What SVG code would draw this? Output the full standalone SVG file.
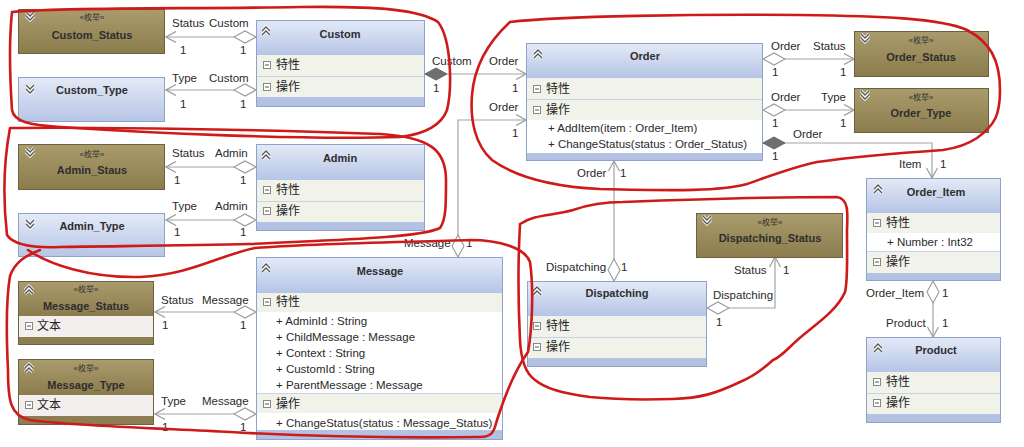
<svg xmlns="http://www.w3.org/2000/svg" xmlns:xlink="http://www.w3.org/1999/xlink" width="1024" height="447" viewBox="0 0 1024 447">
<style>
.t{font-family:"Liberation Sans","Noto Sans CJK SC",sans-serif;font-size:11.5px;fill:#2a2a2a}
.ti{font-size:11px;font-weight:bold;text-anchor:middle;fill:#2e2e2e}
.st{font-size:8px;text-anchor:middle;fill:#333}
.cj{font-size:12px;fill:#222}
.band{fill:url(#gBand)}
.hdr{fill:url(#gHdr)}
.row{fill:#f1f3ea}
.wh{fill:#fff}
.sep{stroke:#c9d2e2;stroke-width:1}
.bd{fill:none;stroke:#8ea3c9;stroke-width:1}
.ebd{fill:none;stroke:#6c6242;stroke-width:1}
.en{fill:url(#gEnum)}
.eband{fill:#8c7e52}
.erow{fill:#f4efef}
.ln{fill:none;stroke:#a3a3a3;stroke-width:1.2}
.od{marker-start:url(#dOpen);marker-end:url(#arr)}
.fd{marker-start:url(#dFill);marker-end:url(#arr)}
.red{fill:none;stroke:#cf1a1a;stroke-width:2.6;stroke-linejoin:round;stroke-linecap:round}
</style>
<defs>
<linearGradient id="gHdr" x1="0" y1="0" x2="0" y2="1"><stop offset="0" stop-color="#e4eaf7"/><stop offset="1" stop-color="#b6c5e6"/></linearGradient>
<linearGradient id="gBand" x1="0" y1="0" x2="0" y2="1"><stop offset="0" stop-color="#cbd5ec"/><stop offset="1" stop-color="#b2c1e2"/></linearGradient>
<linearGradient id="gEnum" x1="0" y1="0" x2="0" y2="1"><stop offset="0" stop-color="#aa9c6d"/><stop offset="1" stop-color="#8b7c4d"/></linearGradient>
<marker id="arr" viewBox="0 0 12 12" markerUnits="userSpaceOnUse" markerWidth="12" markerHeight="12" refX="11" refY="6" orient="auto"><path d="M1,0.5 L11,6 L1,11.5" fill="none" stroke="#9a9a9a" stroke-width="1.2"/></marker>
<marker id="dOpen" viewBox="0 0 24 14" markerUnits="userSpaceOnUse" markerWidth="24" markerHeight="14" refX="1" refY="7" orient="auto"><path d="M1,7 L12,1 L23,7 L12,13 Z" fill="#fff" stroke="#9a9a9a" stroke-width="1.1"/></marker>
<marker id="dFill" viewBox="0 0 24 14" markerUnits="userSpaceOnUse" markerWidth="24" markerHeight="14" refX="1" refY="7" orient="auto"><path d="M1,7 L12,1 L23,7 L12,13 Z" fill="#6f6f6f" stroke="#666" stroke-width="1"/></marker>
<symbol id="up" viewBox="0 0 12 12"><path d="M2,6 L6,2 L10,6 M2,10 L6,6 L10,10" fill="none" stroke="#fff" stroke-width="3"/><path d="M2,6 L6,2 L10,6 M2,10 L6,6 L10,10" fill="none" stroke="#555" stroke-width="1.3"/></symbol>
<symbol id="dn" viewBox="0 0 12 12"><path d="M2,2 L6,6 L10,2 M2,6 L6,10 L10,6" fill="none" stroke="#fff" stroke-width="3"/><path d="M2,2 L6,6 L10,2 M2,6 L6,10 L10,6" fill="none" stroke="#555" stroke-width="1.3"/></symbol>
<symbol id="mb" viewBox="0 0 8 8"><rect x="0.5" y="0.5" width="7" height="7" fill="#fff" stroke="#888"/><path d="M2,4 H6" stroke="#555"/></symbol>
</defs>
<rect width="1024" height="447" fill="#fff"/>

<g id="connectors">
<path class="ln od" d="M256,37 H166"/>
<path class="ln od" d="M256,90 H166"/>
<path class="ln od" d="M256,167 H166"/>
<path class="ln od" d="M256,220 H166"/>
<path class="ln od" d="M256,312 H155"/>
<path class="ln od" d="M256,414 H155"/>
<path class="ln fd" d="M425,74 H526"/>
<path class="ln od" d="M458,257 V120 H526"/>
<path class="ln od" d="M763,59 H854"/>
<path class="ln od" d="M763,110 H854"/>
<path class="ln fd" d="M763,143 H932 V178"/>
<path class="ln od" d="M614,281 V161"/>
<path class="ln od" d="M707,308 H775 V257"/>
<path class="ln od" d="M933,281 V337"/>
<g class="t">
<text x="172" y="27">Status</text><text x="209" y="27">Custom</text><text x="180" y="54">1</text><text x="240" y="54">1</text>
<text x="172" y="82">Type</text><text x="209" y="82">Custom</text><text x="180" y="108">1</text><text x="240" y="108">1</text>
<text x="172" y="157">Status</text><text x="215" y="157">Admin</text><text x="174" y="184">1</text><text x="240" y="184">1</text>
<text x="172" y="210">Type</text><text x="215" y="210">Admin</text><text x="174" y="236">1</text><text x="240" y="236">1</text>
<text x="161" y="304">Status</text><text x="202" y="304">Message</text><text x="162" y="329">1</text><text x="240" y="329">1</text>
<text x="161" y="405">Type</text><text x="202" y="405">Message</text><text x="162" y="431">1</text><text x="240" y="431">1</text>
<text x="432" y="65">Custom</text><text x="489" y="65">Order</text><text x="433" y="92">1</text><text x="512" y="92">1</text>
<text x="489" y="111">Order</text><text x="512" y="137">1</text><text x="404" y="247">Message</text><text x="466" y="247">1</text>
<text x="771" y="50">Order</text><text x="813" y="50">Status</text><text x="772" y="76">1</text><text x="840" y="76">1</text>
<text x="771" y="101">Order</text><text x="821" y="101">Type</text><text x="772" y="127">1</text><text x="840" y="127">1</text>
<text x="793" y="138">Order</text><text x="772" y="160">1</text><text x="899" y="168">Item</text><text x="940" y="168">1</text>
<text x="577" y="177">Order</text><text x="620" y="177">1</text><text x="546" y="271">Dispatching</text><text x="621" y="271">1</text>
<text x="734" y="274">Status</text><text x="783" y="274">1</text><text x="713" y="299">Dispatching</text><text x="716" y="326">1</text>
<text x="866" y="297">Order_Item</text><text x="942" y="297">1</text><text x="886" y="327">Product</text><text x="942" y="327">1</text>
</g>
</g>

<g id="Custom_Status">
<rect x="18" y="9" width="147" height="45" class="en"/><rect x="18.5" y="9.5" width="146" height="44" class="ebd"/>
<use xlink:href="#dn" x="24" y="10" width="12" height="12"/>
<text class="t st" x="92" y="20">«枚举»</text><text class="t ti" x="92" y="39">Custom_Status</text>
</g>
<g id="Custom_Type">
<rect x="18" y="77" width="147" height="45" class="hdr"/><rect x="18.5" y="77.5" width="146" height="44" class="bd"/>
<use xlink:href="#dn" x="24" y="83" width="12" height="12"/>
<text class="t ti" x="92" y="94">Custom_Type</text>
</g>
<g id="Custom">
<rect x="256" y="20" width="169" height="87" class="band"/>
<rect x="256" y="20" width="169" height="35" class="hdr"/>
<rect x="257" y="55" width="167" height="42" class="row"/>
<line x1="257" y1="76.5" x2="424" y2="76.5" class="sep"/>
<rect x="256.5" y="20.5" width="168" height="86" class="bd"/>
<use xlink:href="#up" x="260" y="25" width="12" height="12"/>
<text class="t ti" x="340" y="38">Custom</text>
<use xlink:href="#mb" x="263" y="61" width="8" height="8"/><text class="t cj" x="276" y="69">特性</text>
<use xlink:href="#mb" x="263" y="83" width="8" height="8"/><text class="t cj" x="276" y="91">操作</text>
</g>

<g id="Admin_Staus">
<rect x="18" y="144" width="147" height="46" class="en"/><rect x="18.5" y="144.5" width="146" height="45" class="ebd"/>
<use xlink:href="#dn" x="24" y="146" width="12" height="12"/>
<text class="t st" x="92" y="157">«枚举»</text><text class="t ti" x="92" y="174">Admin_Staus</text>
</g>
<g id="Admin_Type">
<rect x="18" y="213" width="147" height="44" class="hdr"/><rect x="18.5" y="213.5" width="146" height="43" class="bd"/>
<use xlink:href="#dn" x="24" y="218" width="12" height="12"/>
<text class="t ti" x="92" y="230">Admin_Type</text>
</g>
<g id="Admin">
<rect x="256" y="144" width="169" height="87" class="band"/>
<rect x="256" y="144" width="169" height="36" class="hdr"/>
<rect x="257" y="180" width="167" height="42" class="row"/>
<line x1="257" y1="201.5" x2="424" y2="201.5" class="sep"/>
<rect x="256.5" y="144.5" width="168" height="86" class="bd"/>
<use xlink:href="#up" x="260" y="149" width="12" height="12"/>
<text class="t ti" x="340" y="162">Admin</text>
<use xlink:href="#mb" x="263" y="186" width="8" height="8"/><text class="t cj" x="276" y="194">特性</text>
<use xlink:href="#mb" x="263" y="207" width="8" height="8"/><text class="t cj" x="276" y="215">操作</text>
</g>

<g id="Message_Status">
<rect x="18" y="281" width="136" height="64" class="eband"/>
<rect x="18" y="281" width="136" height="35" class="en"/>
<rect x="19" y="316" width="134" height="21" class="erow"/>
<rect x="18.5" y="281.5" width="135" height="63" class="ebd"/>
<use xlink:href="#up" x="23" y="284" width="12" height="12"/>
<text class="t st" x="86" y="292">«枚举»</text><text class="t ti" x="86" y="310">Message_Status</text>
<use xlink:href="#mb" x="25" y="322" width="8" height="8"/><text class="t cj" x="37" y="330">文本</text>
</g>
<g id="Message_Type">
<rect x="18" y="359" width="136" height="66" class="eband"/>
<rect x="18" y="359" width="136" height="36" class="en"/>
<rect x="19" y="395" width="134" height="21" class="erow"/>
<rect x="18.5" y="359.5" width="135" height="65" class="ebd"/>
<use xlink:href="#up" x="23" y="362" width="12" height="12"/>
<text class="t st" x="86" y="371">«枚举»</text><text class="t ti" x="86" y="389">Message_Type</text>
<use xlink:href="#mb" x="25" y="401" width="8" height="8"/><text class="t cj" x="37" y="409">文本</text>
</g>
<g id="Message">
<rect x="256" y="257" width="247" height="183" class="band"/>
<rect x="256" y="257" width="247" height="36" class="hdr"/>
<rect x="257" y="293" width="245" height="19" class="row"/>
<rect x="257" y="312" width="245" height="82" class="wh"/>
<line x1="257" y1="393.5" x2="502" y2="393.5" class="sep"/>
<rect x="257" y="394" width="245" height="19" class="row"/>
<rect x="257" y="413" width="245" height="17" class="wh"/>
<rect x="256.5" y="257.5" width="246" height="182" class="bd"/>
<use xlink:href="#up" x="260" y="262" width="12" height="12"/>
<text class="t ti" x="380" y="275">Message</text>
<use xlink:href="#mb" x="263" y="298" width="8" height="8"/><text class="t cj" x="276" y="306">特性</text>
<text class="t" x="276" y="325">+ AdminId : String</text>
<text class="t" x="276" y="341">+ ChildMessage : Message</text>
<text class="t" x="276" y="357">+ Context : String</text>
<text class="t" x="276" y="373">+ CustomId : String</text>
<text class="t" x="276" y="389">+ ParentMessage : Message</text>
<use xlink:href="#mb" x="263" y="400" width="8" height="8"/><text class="t cj" x="276" y="408">操作</text>
<text class="t" x="276" y="427">+ ChangeStatus(status : Message_Status)</text>
</g>

<g id="Order">
<rect x="526" y="43" width="237" height="118" class="band"/>
<rect x="526" y="43" width="237" height="35" class="hdr"/>
<rect x="527" y="78" width="235" height="42" class="row"/>
<line x1="527" y1="99.5" x2="762" y2="99.5" class="sep"/>
<rect x="527" y="120" width="235" height="33" class="wh"/>
<rect x="526.5" y="43.5" width="236" height="117" class="bd"/>
<use xlink:href="#up" x="532" y="48" width="12" height="12"/>
<text class="t ti" x="645" y="60">Order</text>
<use xlink:href="#mb" x="533" y="85" width="8" height="8"/><text class="t cj" x="546" y="93">特性</text>
<use xlink:href="#mb" x="533" y="106" width="8" height="8"/><text class="t cj" x="546" y="114">操作</text>
<text class="t" x="548" y="132">+ AddItem(item : Order_Item)</text>
<text class="t" x="548" y="148">+ ChangeStatus(status : Order_Status)</text>
</g>
<g id="Order_Status">
<rect x="854" y="31" width="135" height="46" class="en"/><rect x="854.5" y="31.5" width="134" height="45" class="ebd"/>
<use xlink:href="#dn" x="859" y="32" width="12" height="12"/>
<text class="t st" x="921" y="43">«枚举»</text><text class="t ti" x="921" y="61">Order_Status</text>
</g>
<g id="Order_Type">
<rect x="854" y="88" width="135" height="45" class="en"/><rect x="854.5" y="88.5" width="134" height="44" class="ebd"/>
<use xlink:href="#dn" x="859" y="89" width="12" height="12"/>
<text class="t st" x="921" y="100">«枚举»</text><text class="t ti" x="921" y="117">Order_Type</text>
</g>
<g id="Order_Item">
<rect x="866" y="178" width="135" height="103" class="band"/>
<rect x="866" y="178" width="135" height="35" class="hdr"/>
<rect x="867" y="213" width="133" height="20" class="row"/>
<rect x="867" y="233" width="133" height="19" class="wh"/>
<line x1="867" y1="251.5" x2="1000" y2="251.5" class="sep"/>
<rect x="867" y="252" width="133" height="21" class="row"/>
<rect x="866.5" y="178.5" width="134" height="102" class="bd"/>
<use xlink:href="#up" x="872" y="183" width="12" height="12"/>
<text class="t ti" x="936" y="196">Order_Item</text>
<use xlink:href="#mb" x="873" y="219" width="8" height="8"/><text class="t cj" x="886" y="227">特性</text>
<text class="t" x="887" y="246">+ Number : Int32</text>
<use xlink:href="#mb" x="873" y="258" width="8" height="8"/><text class="t cj" x="886" y="266">操作</text>
</g>
<g id="Product">
<rect x="866" y="337" width="135" height="86" class="band"/>
<rect x="866" y="337" width="135" height="35" class="hdr"/>
<rect x="867" y="372" width="133" height="42" class="row"/>
<line x1="867" y1="393.5" x2="1000" y2="393.5" class="sep"/>
<rect x="866.5" y="337.5" width="134" height="85" class="bd"/>
<use xlink:href="#up" x="872" y="342" width="12" height="12"/>
<text class="t ti" x="936" y="354">Product</text>
<use xlink:href="#mb" x="873" y="378" width="8" height="8"/><text class="t cj" x="886" y="386">特性</text>
<use xlink:href="#mb" x="873" y="399" width="8" height="8"/><text class="t cj" x="886" y="407">操作</text>
</g>

<g id="Dispatching">
<rect x="527" y="281" width="180" height="86" class="band"/>
<rect x="527" y="281" width="180" height="35" class="hdr"/>
<rect x="528" y="316" width="178" height="42" class="row"/>
<line x1="528" y1="337.5" x2="706" y2="337.5" class="sep"/>
<rect x="527.5" y="281.5" width="179" height="85" class="bd"/>
<use xlink:href="#up" x="531" y="285" width="12" height="12"/>
<text class="t ti" x="617" y="297">Dispatching</text>
<use xlink:href="#mb" x="533" y="322" width="8" height="8"/><text class="t cj" x="546" y="330">特性</text>
<use xlink:href="#mb" x="533" y="343" width="8" height="8"/><text class="t cj" x="546" y="351">操作</text>
</g>
<g id="Dispatching_Status">
<rect x="696" y="213" width="147" height="45" class="en"/><rect x="696.5" y="213.5" width="146" height="44" class="ebd"/>
<use xlink:href="#dn" x="701" y="214" width="12" height="12"/>
<text class="t st" x="770" y="225">«枚举»</text><text class="t ti" x="770" y="242">Dispatching_Status</text>
</g>

<g id="annotations">
<path class="red" d="M12,12 C60,7 200,9 300,7 C380,6 420,10 438,22 C452,40 452,90 447,110 C441,126 425,134 400,137 C300,140 150,133 60,127 C30,125 14,122 12,110 C10,80 9,40 12,12"/>
<path class="red" d="M10,128 C80,127 250,129 380,134 C430,137 446,150 446,180 C446,205 446,220 440,228 C420,238 330,240 250,244 C180,246 100,246 60,247 C35,248 14,246 7,235 C3,200 4,160 10,128"/>
<path class="red" d="M28,250 C50,265 90,278 140,277 C190,275 220,255 255,248 C320,243 420,242 470,240 C500,240 525,248 530,262 C534,290 532,330 528,352 C515,370 505,395 497,420 C494,432 492,437 480,437 C400,438 300,436 230,432 C150,428 60,425 30,420 C10,416 8,400 8,370 C6,330 6,300 10,276 C15,262 25,256 40,250"/>
<path class="red" d="M510,22 C560,16 700,14 800,15 C880,16 940,18 967,30 C990,42 1000,60 1000,90 C1000,115 995,125 977,138 C965,146 950,149 943,150 C900,153 860,156 817,162 C790,168 770,176 747,184 C720,191 680,191 600,189 C560,187 520,180 492,160 C475,145 470,120 472,95 C474,70 485,45 510,22"/>
<path class="red" d="M520,224 C535,214 552,216 573,210 C590,204 610,202 623,202 C700,199 790,197 837,197 C848,199 848,210 847,230 C847,260 848,280 845,292 C838,308 822,320 807,332 C790,345 782,357 773,360 C760,372 750,378 740,382 C715,394 700,398 673,399 C640,400 610,399 590,397 C560,393 545,388 535,380 C525,373 521,360 520,340 C518,300 518,260 520,224"/>
</g>
</svg>
